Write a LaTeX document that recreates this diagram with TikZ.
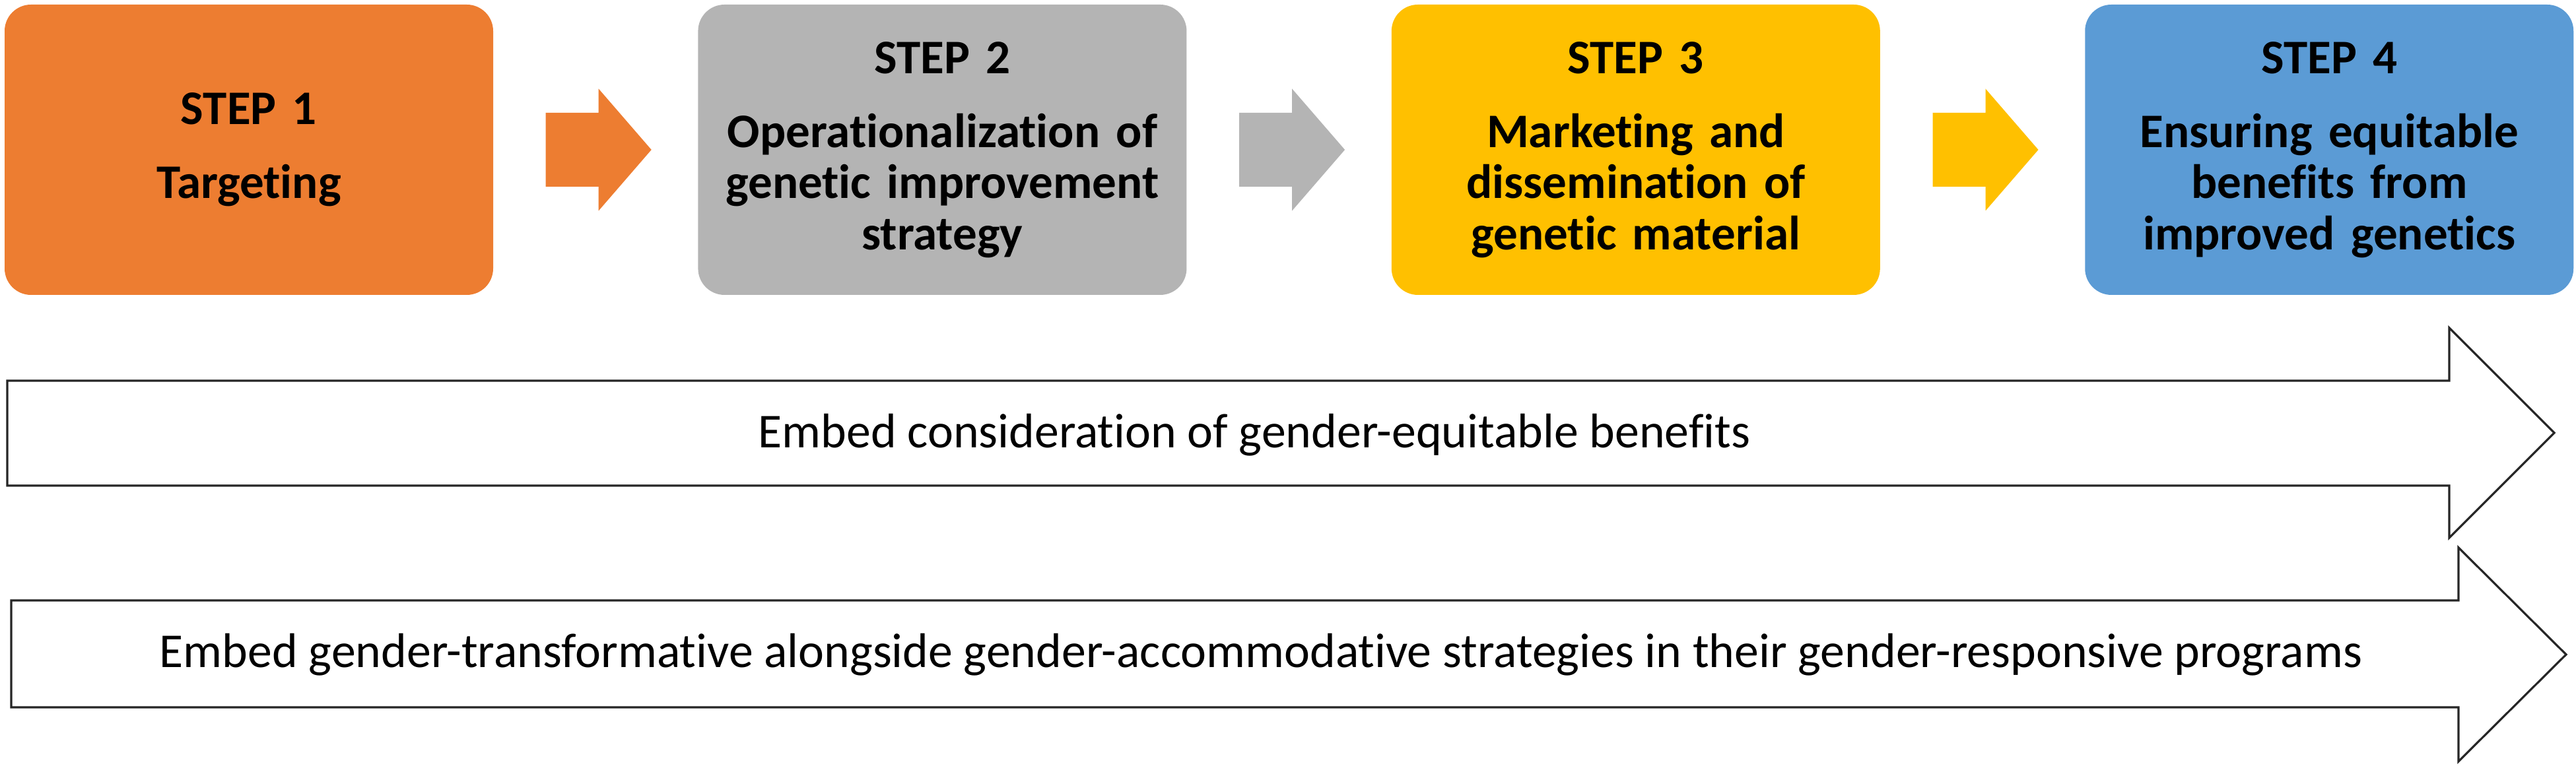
\documentclass[tikz,border=0pt]{standalone}
\usepackage{fontspec}
\setmainfont{Carlito}[Ligatures=NoCommon]
\usetikzlibrary{calc,positioning}
\definecolor{stepone}{HTML}{ED7D31}
\definecolor{steptwo}{HTML}{B4B4B4}
\definecolor{stepthree}{HTML}{FFC000}
\definecolor{stepfour}{HTML}{5B9BD5}
\newcommand{\blockarrow}[2]{\fill[#1] ($(#2.east)+(0.79,0.56)$) -- ++(0.8,0) -- ++(0,0.365) -- ++(0.8,-0.925) -- ++(-0.8,-0.925) -- ++(0,0.365) -- ++(-0.8,0) -- cycle;}
\tikzset{
	stepbox/.style={rounded corners=0.4cm, minimum width=7.4cm, minimum height=4.4cm, align=center, text width=6.9cm, font=\fontsize{20.8}{22}\selectfont\bfseries},
	bandline/.style={draw=black!85, line width=0.9pt, fill=white},
	bandtext/.style={anchor=base, inner sep=0pt, font=\fontsize{21}{25}\selectfont}
}

\begin{document}
\begin{tikzpicture}
		%%%%% START %%%%%
		\useasboundingbox (0, 0) rectangle (39.02, 11.64);
		
		\node[stepbox, fill=stepone] (s1) at (3.77, 9.37) {STEP 1\\[10pt]Targeting};
		\node[stepbox, fill=steptwo, right=3.09cm of s1] (s2) {STEP 2\\[10pt]Operationalization of\\genetic improvement\\strategy};
		\node[stepbox, fill=stepthree, right=3.09cm of s2] (s3) {STEP 3\\[10pt]Marketing and\\dissemination of\\genetic material};
		\node[stepbox, fill=stepfour, right=3.09cm of s3] (s4) {STEP 4\\[10pt]Ensuring equitable\\benefits from\\improved genetics};
		
		\blockarrow{stepone}{s1}
		\blockarrow{steptwo}{s2}
		\blockarrow{stepthree}{s3}
		
		\draw[bandline] (0.11, 5.87) -- (37.10, 5.87) -- (37.10, 6.67) -- (38.69, 5.08) -- (37.10, 3.49) -- (37.10, 4.28) -- (0.11, 4.28) -- cycle;
		\node[bandtext] (g1) at (19.0, 4.85) {Embed consideration of gender-equitable benefits};
		
		\draw[bandline] (0.17, 2.54) -- (37.24, 2.54) -- (37.24, 3.34) -- (38.87, 1.72) -- (37.24, 0.10) -- (37.24, 0.92) -- (0.17, 0.92) -- cycle;
		\node[bandtext] (g2) at (19.1, 1.52) {Embed gender-transformative alongside gender-accommodative strategies in their gender-responsive programs};
		
		%%%%% END %%%%%
	\end{tikzpicture}
\end{document}
